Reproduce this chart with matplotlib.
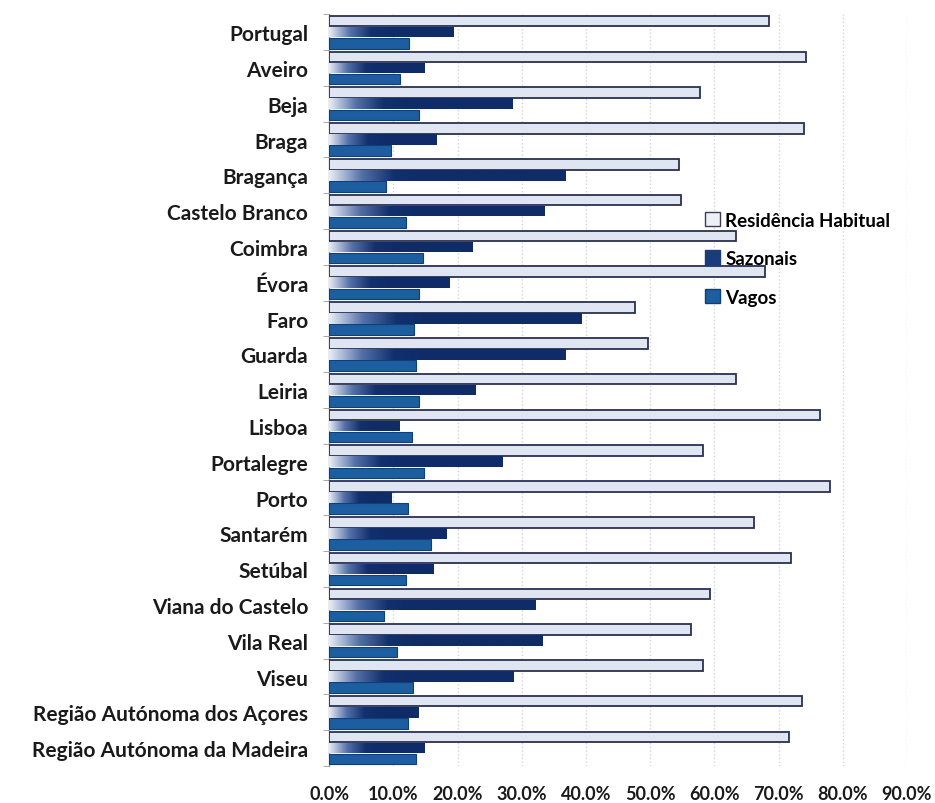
import numpy as np
import matplotlib
matplotlib.use('Agg')
import matplotlib.pyplot as plt
from matplotlib.colors import LinearSegmentedColormap
from matplotlib.patches import Patch

plt.rcParams['font.family'] = ['Lato', 'DejaVu Sans']
plt.rcParams['font.weight'] = 'bold'

# Data (shares of dwellings, %)
regioes = ['Portugal', 'Aveiro', 'Beja', 'Braga', 'Bragança', 'Castelo Branco',
           'Coimbra', 'Évora', 'Faro', 'Guarda', 'Leiria', 'Lisboa', 'Portalegre',
           'Porto', 'Santarém', 'Setúbal', 'Viana do Castelo', 'Vila Real', 'Viseu',
           'Região Autónoma dos Açores', 'Região Autónoma da Madeira']
residencia = [68.5, 74.3, 57.8, 74.0, 54.5, 54.8, 63.4, 67.9, 47.6, 49.6, 63.4,
              76.4, 58.3, 78.0, 66.1, 72.0, 59.4, 56.4, 58.3, 73.6, 71.6]
sazonais = [19.4, 14.8, 28.6, 16.7, 36.8, 33.6, 22.4, 18.7, 39.3, 36.9, 22.8,
            11.0, 27.1, 9.8, 18.3, 16.3, 32.2, 33.2, 28.7, 13.9, 14.9]
vagos = [12.5, 11.1, 14.0, 9.7, 8.9, 11.9, 14.6, 14.0, 13.2, 13.6, 14.0,
         12.9, 14.8, 12.3, 15.8, 11.9, 8.6, 10.5, 13.1, 12.3, 13.5]
xticks = [0, 10, 20, 30, 40, 50, 60, 70, 80, 90]

fig = plt.figure(figsize=(9.35, 8.04), dpi=100)
ax = fig.add_axes([0.352, 0.046, 0.618, 0.935])

y = np.arange(len(regioes))
h = 0.31

ax.set_axisbelow(True)
ax.grid(axis='x', color='#d4d4d4', linestyle=':', linewidth=1.0)

b_res = ax.barh(y - h, residencia, height=h * 0.95, color='#e0e5f2',
                edgecolor='#2a3050', linewidth=1.3, zorder=3)
b_saz = ax.barh(y, sazonais, height=h * 0.95, color='none', linewidth=0, zorder=3)
b_vag = ax.barh(y + h, vagos, height=h * 0.95, color='#1c5e9f',
                edgecolor='#0f3f78', linewidth=0.8, zorder=3)

# white -> navy gradient for "Sazonais"
cmap = LinearSegmentedColormap.from_list('saz', ['#e6ebf5', '#5470a8', '#11306d', '#0f2c68'])
for patch, v in zip(b_saz.patches, sazonais):
    x0, y0 = patch.get_x(), patch.get_y()
    w, hh = patch.get_width(), patch.get_height()
    end = min(0.75 * v, 4 + 0.3 * v)
    xs = np.linspace(0, v, 200)
    grad = np.clip(xs / end, 0, 1)[None, :]
    im = ax.imshow(grad, cmap=cmap, vmin=0, vmax=1, aspect='auto',
                   extent=[x0, x0 + w, y0 + hh, y0], zorder=3, interpolation='bilinear')
    im.set_clip_path(patch)

ax.set_xlim(0, 90)
ax.set_ylim(len(regioes) - 0.5, -0.5)

ax.set_yticks(y)
ax.set_yticklabels(regioes, fontsize=15, fontweight='bold', color='#1a1a1a')
ax.set_yticks(np.arange(len(regioes) + 1) - 0.5, minor=True)
ax.tick_params(axis='y', which='major', length=0, pad=15)
ax.tick_params(axis='y', which='minor', length=4, color='#9a9a9a', direction='out')

ax.set_xticks(xticks)
ax.set_xticklabels([f'{t:.1f}%' for t in xticks], fontsize=13, fontweight='bold', color='#1a1a1a')
ax.tick_params(axis='x', length=0, pad=14)

for s in ['top', 'right', 'bottom']:
    ax.spines[s].set_visible(False)
ax.spines['left'].set_color('#9a9a9a')
ax.spines['left'].set_linewidth(1.0)

handles = [Patch(facecolor='#eef0f7', edgecolor='#3a3f55', linewidth=1.0, label='Residência Habitual'),
           Patch(facecolor='#1a3c7d', edgecolor='#1a3c7d', label='Sazonais'),
           Patch(facecolor='#1c5e9f', edgecolor='#0f3f78', label='Vagos')]
ax.legend(handles=handles, loc='upper left', bbox_to_anchor=(0.635, 0.75), frameon=False,
          prop={'size': 13.5, 'weight': 'bold'}, labelspacing=1.15, handlelength=0.8,
          handleheight=0.8, handletextpad=0.25, borderpad=0)

fig.savefig('out.png', dpi=100)
